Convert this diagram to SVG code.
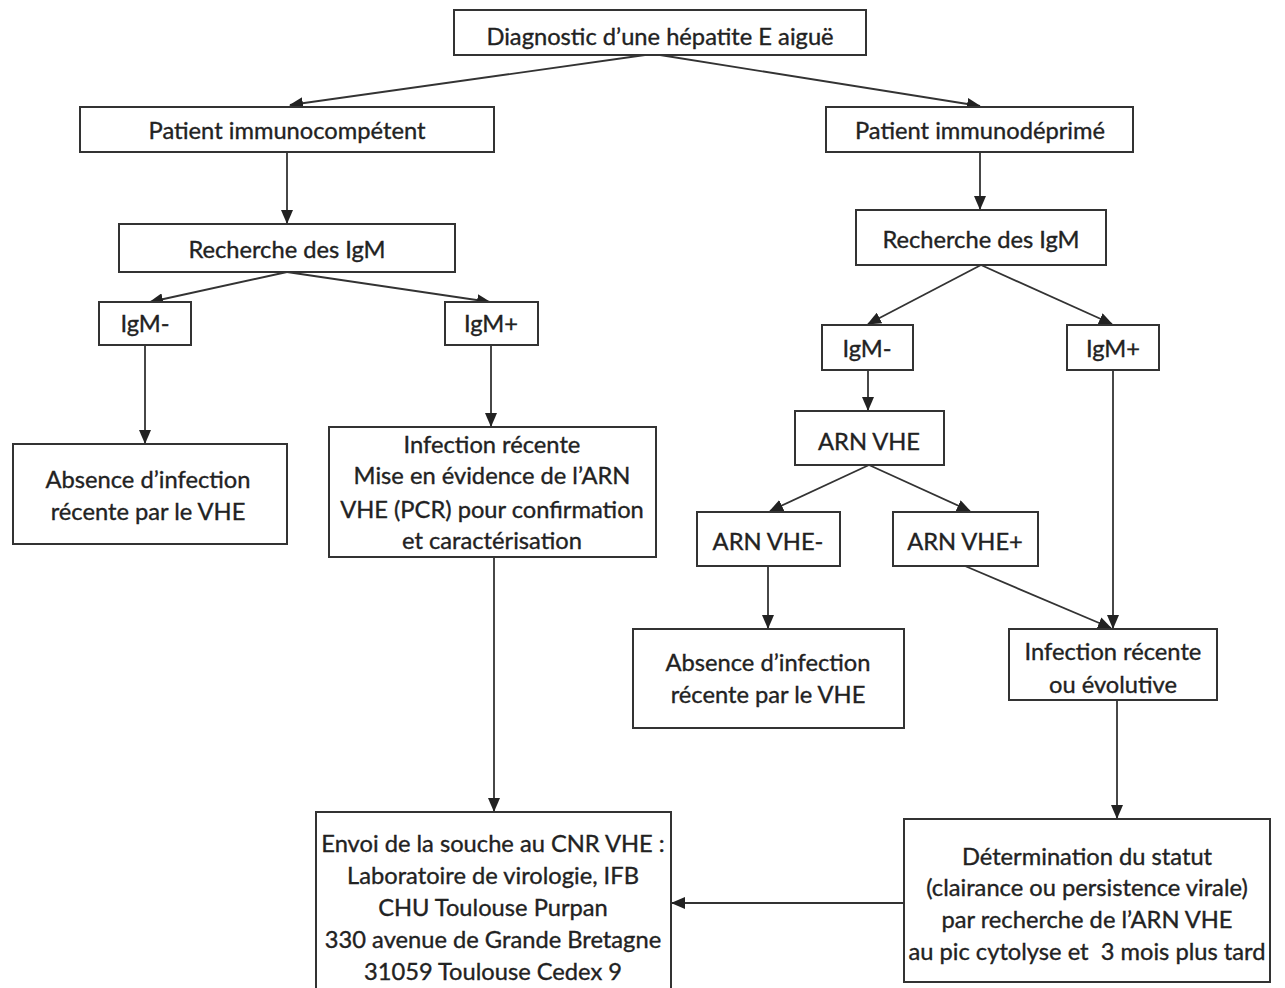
<svg xmlns="http://www.w3.org/2000/svg" width="1285" height="988" viewBox="0 0 1285 988">
<style>
.box{fill:#fff;stroke:#333;stroke-width:2}
.t{font-family:Lato,"Liberation Sans",sans-serif;font-size:23.7px;fill:#222;stroke:#222;stroke-width:0.35;text-anchor:middle;white-space:pre}
.c{stroke:#333;stroke-width:1.8;fill:none;marker-end:url(#ah)}
</style>
<defs>
<marker id="ah" markerUnits="userSpaceOnUse" markerWidth="14" markerHeight="12" refX="13" refY="6" orient="auto">
<path d="M0,0 L14,6 L0,12 Z" fill="#222"/>
</marker>
</defs>
<rect width="1285" height="988" fill="#fff"/>
<g id="connectors">
<line class="c" x1="645" y1="55" x2="290" y2="105"/>
<line class="c" x1="660" y1="55" x2="980" y2="106"/>
<line class="c" x1="287" y1="152" x2="287" y2="223"/>
<line class="c" x1="980" y1="152" x2="980" y2="209"/>
<line class="c" x1="287" y1="272" x2="150" y2="302"/>
<line class="c" x1="287" y1="272" x2="490" y2="302"/>
<line class="c" x1="145" y1="345" x2="145" y2="443"/>
<line class="c" x1="491" y1="345" x2="491" y2="426"/>
<line class="c" x1="494" y1="557" x2="494" y2="811"/>
<line class="c" x1="981" y1="265" x2="868" y2="324"/>
<line class="c" x1="981" y1="265" x2="1112" y2="324"/>
<line class="c" x1="868" y1="370" x2="868" y2="410"/>
<line class="c" x1="869" y1="465" x2="770" y2="511"/>
<line class="c" x1="869" y1="465" x2="970" y2="511"/>
<line class="c" x1="768" y1="566" x2="768" y2="628"/>
<line class="c" x1="965" y1="566" x2="1111" y2="628"/>
<line class="c" x1="1113" y1="370" x2="1113" y2="628"/>
<line class="c" x1="1117" y1="700" x2="1117" y2="818"/>
<line class="c" x1="905" y1="903" x2="672" y2="903"/>
</g>
<g id="n-diagnostic"><rect class="box" x="454" y="10" width="412" height="45"/><text class="t" x="660" y="45">Diagnostic d’une hépatite E aiguë</text></g>
<g id="n-immunocomp"><rect class="box" x="80" y="107" width="414" height="45"/><text class="t" x="287" y="139">Patient immunocompétent</text></g>
<g id="n-immunodep"><rect class="box" x="826" y="107" width="307" height="45"/><text class="t" x="980" y="139">Patient immunodéprimé</text></g>
<g id="n-igm-left"><rect class="box" x="119" y="224" width="336" height="48"/><text class="t" x="287" y="258">Recherche des IgM</text></g>
<g id="n-igm-right"><rect class="box" x="856" y="210" width="250" height="55"/><text class="t" x="981" y="248">Recherche des IgM</text></g>
<g id="n-igmneg-left"><rect class="box" x="99" y="302" width="92" height="43"/><text class="t" x="145" y="332">IgM-</text></g>
<g id="n-igmpos-left"><rect class="box" x="445" y="302" width="93" height="43"/><text class="t" x="491" y="332">IgM+</text></g>
<g id="n-absence-left"><rect class="box" x="13" y="444" width="274" height="100"/><text class="t" x="148" y="488">Absence d’infection</text><text class="t" x="148" y="520">récente par le VHE</text></g>
<g id="n-infection-left"><rect class="box" x="329" y="427" width="327" height="130"/><text class="t" x="492" y="453">Infection récente</text><text class="t" x="492" y="484">Mise en évidence de l’ARN</text><text class="t" x="492" y="518">VHE (PCR) pour confirmation</text><text class="t" x="492" y="549">et caractérisation</text></g>
<g id="n-igmneg-right"><rect class="box" x="822" y="325" width="91" height="45"/><text class="t" x="867" y="357">IgM-</text></g>
<g id="n-igmpos-right"><rect class="box" x="1067" y="325" width="92" height="45"/><text class="t" x="1113" y="357">IgM+</text></g>
<g id="n-arn"><rect class="box" x="795" y="411" width="149" height="54"/><text class="t" x="869" y="450">ARN VHE</text></g>
<g id="n-arnneg"><rect class="box" x="697" y="512" width="143" height="54"/><text class="t" x="768" y="550">ARN VHE-</text></g>
<g id="n-arnpos"><rect class="box" x="893" y="512" width="145" height="54"/><text class="t" x="965" y="550">ARN VHE+</text></g>
<g id="n-absence-right"><rect class="box" x="633" y="629" width="271" height="99"/><text class="t" x="768" y="671">Absence d’infection</text><text class="t" x="768" y="703">récente par le VHE</text></g>
<g id="n-infection-right"><rect class="box" x="1009" y="629" width="208" height="71"/><text class="t" x="1113" y="660">Infection récente</text><text class="t" x="1113" y="693">ou évolutive</text></g>
<g id="n-envoi"><rect class="box" x="316" y="812" width="355" height="190"/><text class="t" x="493" y="852">Envoi de la souche au CNR VHE :</text><text class="t" x="493" y="884">Laboratoire de virologie, IFB</text><text class="t" x="493" y="916">CHU Toulouse Purpan</text><text class="t" x="493" y="948">330 avenue de Grande Bretagne</text><text class="t" x="493" y="980">31059 Toulouse Cedex 9</text></g>
<g id="n-determination"><rect class="box" x="904" y="819" width="366" height="163"/><text class="t" x="1087" y="865">Détermination du statut</text><text class="t" x="1087" y="896">(clairance ou persistence virale)</text><text class="t" x="1087" y="928">par recherche de l’ARN VHE</text><text class="t" x="1087" y="960">au pic cytolyse et  3 mois plus tard</text></g>
</svg>
